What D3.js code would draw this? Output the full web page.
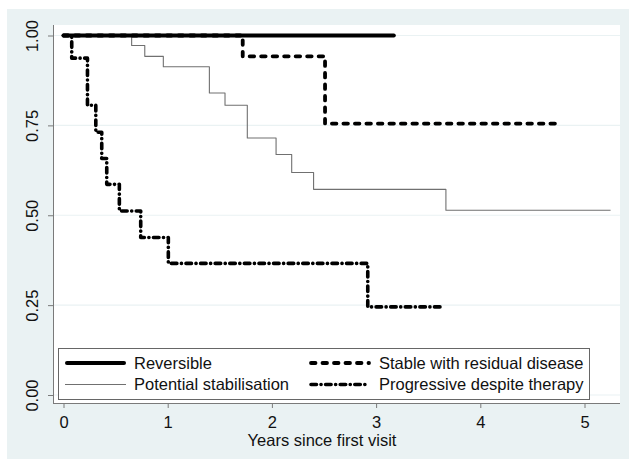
<!DOCTYPE html>
<html>
<head>
<meta charset="utf-8">
<script src="https://cdn.jsdelivr.net/npm/d3@7"></script>
<style>
  body { margin: 0; background: #fff; }
  text { font-family: "Liberation Sans", Arial, sans-serif; fill: #111; }
</style>
</head>
<body>
<svg id="chart" width="629" height="459"></svg>
<script>
// Kaplan-Meier step curves (time in years, survival probability)
var revTime = [0];
var revSurv = [1];
var revEnd = 3.17;

var potTime = [0, 0.654, 0.78, 0.958, 1.40, 1.55, 1.764, 2.04, 2.19, 2.40, 3.67];
var potSurv = [1, 0.972, 0.942, 0.913, 0.840, 0.806, 0.715, 0.669, 0.619, 0.572, 0.514];
var potEnd = 5.25;

var stabTime = [0, 1.72, 2.51];
var stabSurv = [1, 0.942, 0.755];
var stabEnd = 4.75;

var progTime = [0, 0.079, 0.23, 0.31, 0.367, 0.415, 0.536, 0.741, 1.006, 2.92];
var progSurv = [1, 0.937, 0.806, 0.731, 0.658, 0.586, 0.512, 0.438, 0.366, 0.245];
var progEnd = 3.62;

var legendLabels = ["Reversible", "Stable with residual disease", "Potential stabilisation", "Progressive despite therapy"];
var xTicks = [0, 1, 2, 3, 4, 5];
var yTicks = [0, 0.25, 0.5, 0.75, 1];

function init() {
  var svg = d3.select("#chart");

  // outer background (Stata s2color style)
  svg.append("rect")
    .attr("x", 7).attr("y", 9)
    .attr("width", 622).attr("height", 450)
    .attr("fill", "#eaf2f3");

  // plot region
  var left = 53, right = 620, top = 25, bottom = 403;
  svg.append("rect")
    .attr("x", left).attr("y", top)
    .attr("width", right - left).attr("height", bottom - top)
    .attr("fill", "#fff");

  var x = d3.scaleLinear().domain([0, 5]).range([63.5, 584.5]);
  var y = d3.scaleLinear().domain([0, 1]).range([395, 35.5]);

  // gridlines
  svg.append("g").selectAll("line")
    .data(yTicks)
    .enter().append("line")
      .attr("x1", left).attr("x2", right)
      .attr("y1", function(d) { return y(d); })
      .attr("y2", function(d) { return y(d); })
      .attr("stroke", "#eaf2f3")
      .attr("stroke-width", 1.2);

  // y axis
  var yAxis = svg.append("g")
    .attr("transform", "translate(" + left + ",0)")
    .call(d3.axisLeft(y).tickValues(yTicks).tickSize(5).tickFormat(d3.format(".2f")));
  yAxis.select(".domain").attr("stroke", "#7a7a7a").attr("d", "M0.5," + top + "V" + bottom);
  yAxis.selectAll(".tick line").attr("stroke", "#7a7a7a");
  yAxis.selectAll(".tick text")
    .attr("font-size", 16.5)
    .attr("font-family", "Liberation Sans, Arial, sans-serif")
    .attr("fill", "#111")
    .attr("text-anchor", "middle")
    .attr("transform", "translate(-15,0) rotate(-90)")
    .attr("x", 0).attr("y", 0).attr("dy", 0);

  // x axis
  var xAxis = svg.append("g")
    .attr("transform", "translate(0," + bottom + ")")
    .call(d3.axisBottom(x).tickValues(xTicks).tickSize(5).tickFormat(d3.format("d")));
  xAxis.select(".domain").attr("stroke", "#7a7a7a").attr("d", "M" + left + ",0.5H" + right);
  xAxis.selectAll(".tick line").attr("stroke", "#7a7a7a");
  xAxis.selectAll(".tick text")
    .attr("font-size", 16.5)
    .attr("font-family", "Liberation Sans, Arial, sans-serif")
    .attr("fill", "#111")
    .attr("y", 25).attr("dy", 0);

  svg.append("text")
    .attr("x", 322).attr("y", 446)
    .attr("text-anchor", "middle")
    .attr("font-size", 16.5)
    .text("Years since first visit");

  // curves
  var line = d3.line()
    .x(function(d) { return x(d[0]); })
    .y(function(d) { return y(d[1]); })
    .curve(d3.curveStepAfter);

  function steps(t, s, end) {
    var pts = t.map(function(v, i) { return [v, s[i]]; });
    pts.push([end, s[s.length - 1]]);
    return pts;
  }

  var styles = {
    rev: { color: "#000", width: 4, dash: null },
    pot: { color: "#707070", width: 1.1, dash: null },
    stab: { color: "#000", width: 3.8, dash: "4.5,7" },
    prog: { color: "#000", width: 3.6, dash: "5.5,4.5,0.1,4.5" }
  };

  var series = [
    { key: "pot", pts: steps(potTime, potSurv, potEnd) },
    { key: "stab", pts: steps(stabTime, stabSurv, stabEnd) },
    { key: "prog", pts: steps(progTime, progSurv, progEnd) },
    { key: "rev", pts: steps(revTime, revSurv, revEnd) }
  ];

  svg.append("g").selectAll("path")
    .data(series)
    .enter().append("path")
      .attr("d", function(d) { return line(d.pts); })
      .attr("fill", "none")
      .attr("stroke", function(d) { return styles[d.key].color; })
      .attr("stroke-width", function(d) { return styles[d.key].width; })
      .attr("stroke-dasharray", function(d) { return styles[d.key].dash; })
      .attr("stroke-linecap", function(d) { return d.key == "pot" ? "butt" : "round"; })
      .attr("stroke-linejoin", "round");

  // legend
  var lg = svg.append("g");
  lg.append("rect")
    .attr("x", 58.5).attr("y", 348.5)
    .attr("width", 531).attr("height", 51)
    .attr("fill", "#fff")
    .attr("stroke", "#666")
    .attr("stroke-width", 1);

  var legendKeys = ["rev", "stab", "pot", "prog"];
  var colX = [[65, 126, 134], [309, 371, 379]];
  var rowY = [[363, 368.5], [384.5, 390]];
  legendKeys.forEach(function(k, i) {
    var c = colX[i % 2], r = rowY[Math.floor(i / 2)];
    var st = styles[k];
    lg.append("line")
      .attr("x1", c[0] + (k == "pot" ? 0 : 2)).attr("x2", c[1] - (k == "pot" ? 0 : 2))
      .attr("y1", r[0]).attr("y2", r[0])
      .attr("stroke", st.color)
      .attr("stroke-width", st.width)
      .attr("stroke-dasharray", st.dash)
      .attr("stroke-linecap", k == "pot" ? "butt" : "round");
    lg.append("text")
      .attr("x", c[2]).attr("y", r[1])
      .attr("font-size", 16.5)
      .text(legendLabels[i]);
  });
}
window.onload = init;
</script>
</body>
</html>
